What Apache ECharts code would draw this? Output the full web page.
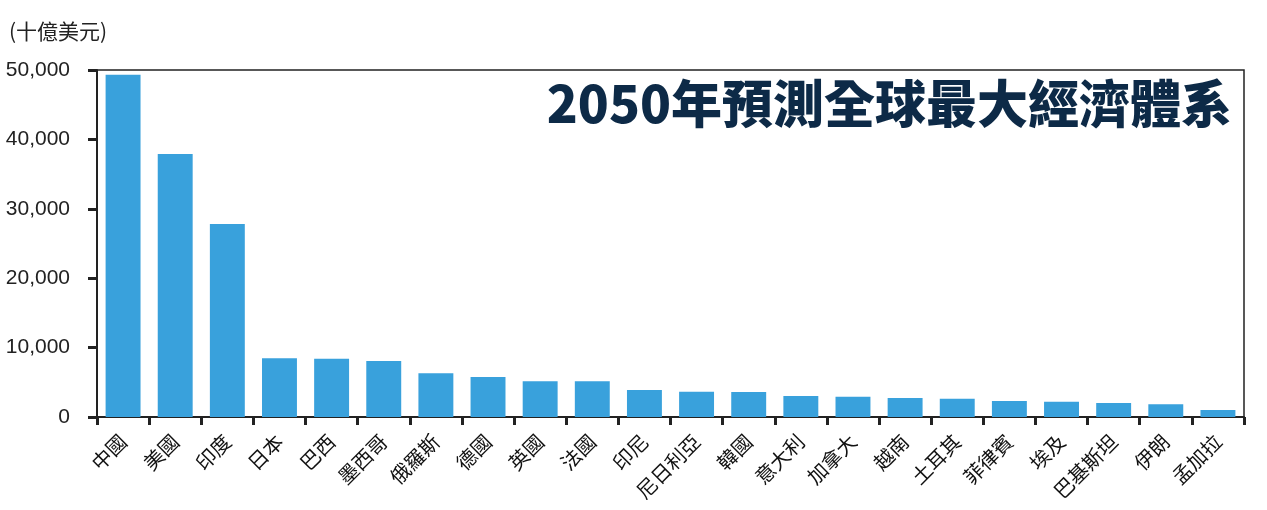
<!DOCTYPE html>
<html>
<head>
<meta charset="utf-8">
<script src="https://cdn.jsdelivr.net/npm/echarts@6/dist/echarts.min.js"></script>
<style>html,body{margin:0;padding:0;background:#fff}#c{width:1267px;height:510px}</style>
</head>
<body>
<div id="c"></div>
<script>
const categories = ['中國','美國','印度','日本','巴西','墨西哥','俄羅斯','德國','英國','法國','印尼','尼日利亞','韓國','意大利','加拿大','越南','土耳其','菲律賓','埃及','巴基斯坦','伊朗','孟加拉'];
const gdp2050 = [49300,37900,27800,8450,8400,8070,6300,5760,5150,5150,3900,3650,3600,3030,2930,2740,2640,2300,2200,2000,1830,1000];
const yTicks = {min:0, max:50000, interval:10000};
const titleText = '2050年預測全球最大經濟體系';
const unitText = '(十億美元)';

const chart = echarts.init(document.getElementById('c'));
chart.setOption({
  animation:false,
  textStyle:{fontFamily:'"Noto Sans CJK TC", "Liberation Sans", sans-serif'},
  title:[
    {text:titleText, right:30, top:73,
     textStyle:{fontSize:51, fontWeight:900, color:'#0d2a47', fontFamily:'"Noto Sans CJK TC", sans-serif'}},
    {text:unitText, left:4, top:16,
     textStyle:{fontSize:21, fontWeight:'normal', color:'#222', fontFamily:'"Noto Sans CJK TC", sans-serif'}}
  ],
  grid:{left:97, right:23, top:70, bottom:93, show:true, borderColor:'#222', borderWidth:1.5, containLabel:false},
  xAxis:{type:'category', data:categories,
    axisLine:{lineStyle:{color:'#222', width:2}},
    axisTick:{show:true, length:8, lineStyle:{color:'#222', width:3}},
    axisLabel:{interval:0, rotate:45, fontSize:20, color:'#111', margin:21,
      fontFamily:'"Noto Sans CJK TC", sans-serif'}},
  yAxis:{type:'value', min:yTicks.min, max:yTicks.max, interval:yTicks.interval,
    axisLine:{show:true, lineStyle:{color:'#222', width:2}},
    axisTick:{show:true, length:9, lineStyle:{color:'#222', width:3}},
    splitLine:{show:false},
    axisLabel:{fontSize:21, color:'#222', margin:27,
      fontFamily:'"Liberation Sans", Arial, sans-serif',
      formatter:v=>v.toLocaleString('en-US')}},
  series:[{type:'bar', data:gdp2050, barWidth:'67%', itemStyle:{color:'#39a1dc'}}]
});
</script>
</body>
</html>
